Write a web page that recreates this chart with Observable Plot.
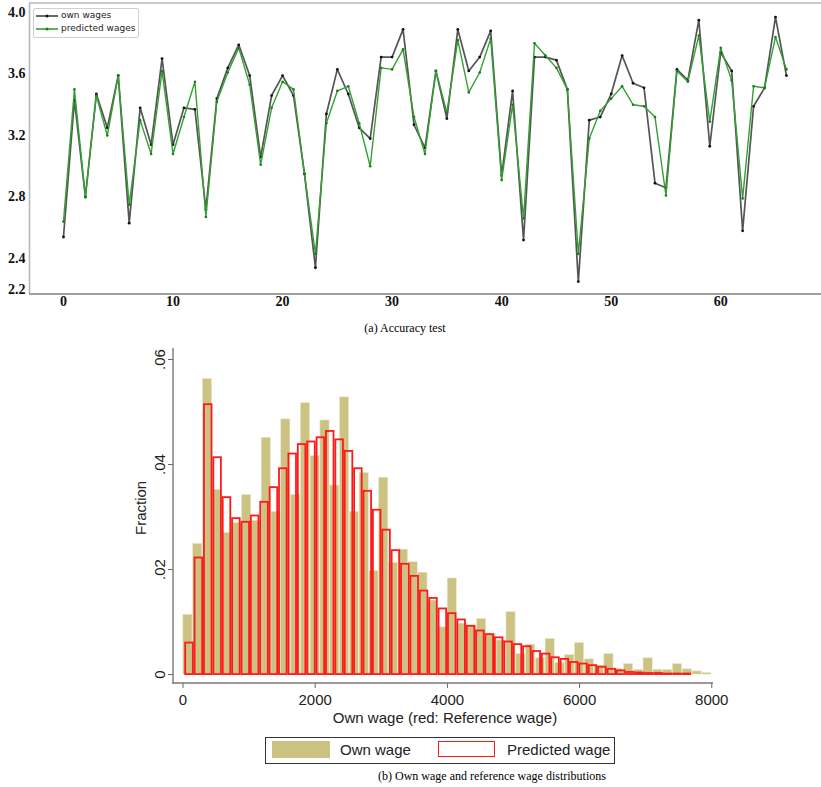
<!DOCTYPE html>
<html><head><meta charset="utf-8">
<script src="https://cdn.jsdelivr.net/npm/d3@7"></script>
<script src="https://cdn.jsdelivr.net/npm/@observablehq/plot@0.6"></script>
<style>
body{margin:0;background:#fff;}
#wrap{position:relative;width:821px;height:787px;overflow:hidden;background:#fff;}
.cap{font-family:"Liberation Serif","Times New Roman",serif;font-size:12px;color:#000;white-space:nowrap;}
.sans{font-family:"Liberation Sans",Arial,sans-serif;font-size:15px;color:#222;white-space:nowrap;}
.leg1{font-family:"DejaVu Sans",sans-serif;font-size:9px;color:#222;white-space:nowrap;}
</style></head><body><div id="wrap"></div>
<script>
// ---------- Panel (a): accuracy test ----------
const ownWages = [2.54,3.43,2.80,3.47,3.25,3.59,2.63,3.38,3.14,3.70,3.14,3.38,3.37,2.72,3.44,3.64,3.79,3.59,3.06,3.46,
  3.59,3.46,2.95,2.34,3.34,3.63,3.47,3.25,3.18,3.71,3.71,3.89,3.27,3.12,3.62,3.31,3.89,3.62,3.71,3.88,
  2.94,3.49,2.52,3.71,3.71,3.69,3.50,2.25,3.30,3.32,3.47,3.72,3.54,3.51,2.89,2.86,3.63,3.56,3.95,3.13,
  3.74,3.62,2.58,3.39,3.51,3.97,3.59];
const predictedWages = [2.64,3.50,2.80,3.46,3.20,3.59,2.75,3.30,3.08,3.62,3.08,3.32,3.55,2.67,3.42,3.61,3.77,3.53,3.01,3.38,
  3.55,3.50,2.95,2.43,3.28,3.49,3.52,3.28,3.00,3.64,3.63,3.76,3.32,3.08,3.62,3.35,3.82,3.48,3.61,3.83,
  2.91,3.40,2.66,3.80,3.72,3.64,3.50,2.43,3.18,3.36,3.44,3.52,3.40,3.39,3.32,2.81,3.62,3.55,3.85,3.29,
  3.77,3.56,2.79,3.52,3.51,3.84,3.63];
const topXTicks = [0,10,20,30,40,50,60];
const topYTicks = [2.2,2.4,2.8,3.2,3.6,4.0];
const topSeries = ["own wages","predicted wages"];

// ---------- Panel (b): wage distributions ----------
const ownWageFraction = [0.0114,0.0249,0.0563,0.0352,0.0270,0.0289,0.0342,0.0293,0.0451,0.0310,
  0.0486,0.0342,0.0517,0.0416,0.0484,0.0360,0.0528,0.0310,0.0384,0.0197,
  0.0375,0.0213,0.0238,0.0214,0.0194,0.0141,0.0090,0.0183,0.0097,0.0093,
  0.0106,0.0078,0.0065,0.0119,0.0039,0.0057,0.0031,0.0068,0.0022,0.0037,
  0.0060,0.0029,0.0017,0.0039,0.0011,0.0020,0.0009,0.0031,0.0009,0.0009,
  0.0020,0.0010,0.0006,0.0003];
const predictedWageFraction = [0.0060,0.0222,0.0514,0.0413,0.0337,0.0297,0.0290,0.0302,0.0328,0.0356,
  0.0392,0.0420,0.0438,0.0443,0.0451,0.0463,0.0447,0.0425,0.0392,0.0349,
  0.0313,0.0275,0.0236,0.0210,0.0187,0.0159,0.0145,0.0125,0.0116,0.0104,
  0.0092,0.0083,0.0076,0.0070,0.0062,0.0057,0.0053,0.0044,0.0039,0.0032,
  0.0029,0.0023,0.0020,0.0017,0.0014,0.0010,0.0007,0.0004,0.0003,0.0002,
  0.0002,0.0001,0.0001,0.0001];
const ownBinStart = 0, ownBinWidth = 8000/54;
const predBinStart = 25, predBinWidth = 142;
const histXTicks = [0,2000,4000,6000,8000];
const histYTicks = [0,0.02,0.04,0.06];
const histYTickLabels = ["0",".02",".04",".06"];
const histSeries = ["Own wage","Predicted wage"];

const wrap = document.getElementById("wrap");
function add(el, css){ el.style.cssText += css; wrap.appendChild(el); return el; }

// ----- top plot -----
const topData = ownWages.map((v,i)=>({i, own:v, pred:predictedWages[i]}));
const topPlot = Plot.plot({
  width: 821, height: 318,
  marginLeft: 30, marginRight: 0, marginTop: 3, marginBottom: 24,
  x: {domain: [-3.01, 69.2]},
  y: {domain: [2.166, 4.0585]},
  style: {fontFamily: "Liberation Serif, Times New Roman, serif", fontSize: "14px", fontWeight: "bold", color: "#111", background: "transparent", overflow: "visible"},
  marks: [
    Plot.axisY({ticks: topYTicks, tickFormat: d => d.toFixed(1), tickSize: 0, tickPadding: 5, label: null}),
    Plot.axisX({ticks: topXTicks, tickFormat: d => String(d), tickSize: 0, tickPadding: 2, label: null}),
    Plot.line(topData, {x: "i", y: "own", stroke: "#555", strokeWidth: 1.7}),
    Plot.dot(topData, {x: "i", y: "own", r: 1.4, fill: "#111"}),
    Plot.line(topData, {x: "i", y: "pred", stroke: "#34a034", strokeWidth: 1.4}),
    Plot.dot(topData, {x: "i", y: "pred", r: 1.3, fill: "#1d7a1d"})
  ]
});
add(topPlot, "position:absolute;left:0;top:0;");
{
  const svg = d3.select(topPlot);
  const g = svg.append("g").attr("fill","none");
  g.append("line").attr("x1",29).attr("x2",821).attr("y1",3).attr("y2",3).attr("stroke","#b8b8b8").attr("stroke-width",1.6);
  g.append("line").attr("x1",29.5).attr("x2",29.5).attr("y1",3).attr("y2",294).attr("stroke","#b8b8b8").attr("stroke-width",1.6);
  g.append("line").attr("x1",29).attr("x2",821).attr("y1",294).attr("y2",294).attr("stroke","#a0a0a0").attr("stroke-width",2);
}
// top legend
{
  add(document.createElement("div"), "position:absolute;left:33px;top:8px;width:104px;height:28px;border:1px solid #d0d0d0;border-radius:2px;background:#fff;");
  const cols = ["#444","#34a034"], dots = ["#111","#1d7a1d"];
  topSeries.forEach((name,k)=>{
    const y = 16 + k*13;
    const s = document.createElementNS("http://www.w3.org/2000/svg","svg");
    s.setAttribute("width","22"); s.setAttribute("height","6");
    s.innerHTML = `<line x1="0" x2="22" y1="3" y2="3" stroke="${cols[k]}" stroke-width="1.6"/><circle cx="11" cy="3" r="1.5" fill="${dots[k]}"/>`;
    add(s, `position:absolute;left:36px;top:${y-3}px;`);
    const t = add(document.createElement("div"), `position:absolute;left:61px;top:${y-6}px;line-height:11px;`);
    t.className = "leg1"; t.textContent = name;
  });
}
const capA = add(document.createElement("div"), "position:absolute;left:0;width:810px;top:321px;text-align:center;");
capA.className = "cap"; capA.textContent = "(a) Accuracy test";

// ----- bottom plot -----
const ownBins = ownWageFraction.map((f,i)=>({x1: ownBinStart + i*ownBinWidth, x2: ownBinStart + (i+1)*ownBinWidth, f}));
const predBins = predictedWageFraction.map((f,i)=>({x1: predBinStart + i*predBinWidth, x2: predBinStart + (i+1)*predBinWidth, f}));
const tan = "#cbc283", red = "#ff1a1a";
const botPlot = Plot.plot({
  width: 821, height: 390,
  marginLeft: 173, marginRight: 108, marginTop: 8, marginBottom: 47,
  x: {domain: [-144, 8026]},
  y: {domain: [-0.0017, 0.0621]},
  style: {fontFamily: "Liberation Sans, Arial, sans-serif", fontSize: "15px", color: "#222", background: "transparent", overflow: "visible"},
  marks: [
    Plot.rectY(ownBins, {x1: "x1", x2: "x2", y1: 0, y2: "f", fill: tan, stroke: "#ece8c8", strokeWidth: 0.6, insetLeft: 0.3, insetRight: 0.3}),
    Plot.rectY(predBins, {x1: "x1", x2: "x2", y1: 0, y2: "f", fill: "none", stroke: red, strokeWidth: 1.8, insetLeft: 1, insetRight: 0.8}),
    Plot.axisX({ticks: histXTicks, tickFormat: d => String(d), tickSize: 5, tickPadding: 6, stroke: "#666", label: null}),
    Plot.axisY({ticks: histYTicks, tickFormat: d => histYTickLabels[histYTicks.indexOf(d)], tickSize: 5, tickPadding: 4, tickRotate: -90, stroke: "#666", label: null})
  ]
});
add(botPlot, "position:absolute;left:0;top:340px;");
{
  const svg = d3.select(botPlot);
  const g = svg.append("g").attr("fill","none").attr("stroke","#777").attr("stroke-width",1.4);
  g.append("line").attr("x1",173).attr("x2",173).attr("y1",8).attr("y2",343.7);
  g.append("line").attr("x1",172.3).attr("x2",713).attr("y1",343).attr("y2",343);
}
const fr = add(document.createElement("div"), "position:absolute;left:121px;top:506px;transform:rotate(-90deg);transform-origin:center;width:40px;text-align:center;line-height:18px;");
fr.className = "sans"; fr.textContent = "Fraction";
const xt = add(document.createElement("div"), "position:absolute;left:0;width:890px;top:709px;text-align:center;line-height:18px;");
xt.className = "sans"; xt.textContent = "Own wage (red: Reference wage)";
// bottom legend
{
  add(document.createElement("div"), "position:absolute;left:265px;top:737px;width:348px;height:25px;border:1px solid #333;background:#fff;");
  add(document.createElement("div"), `position:absolute;left:272px;top:741px;width:58px;height:17px;background:${tan};`);
  add(document.createElement("div"), `position:absolute;left:438px;top:741px;width:55px;height:14px;border:1.5px solid ${red};`);
  const t1 = add(document.createElement("div"), "position:absolute;left:340px;top:741px;line-height:18px;"); t1.className="sans"; t1.textContent = histSeries[0];
  const t2 = add(document.createElement("div"), "position:absolute;left:507px;top:741px;line-height:18px;"); t2.className="sans"; t2.textContent = histSeries[1];
}
const capB = add(document.createElement("div"), "position:absolute;left:0;width:984px;top:769px;text-align:center;");
capB.className = "cap"; capB.textContent = "(b) Own wage and reference wage distributions";
</script>
</body></html>
